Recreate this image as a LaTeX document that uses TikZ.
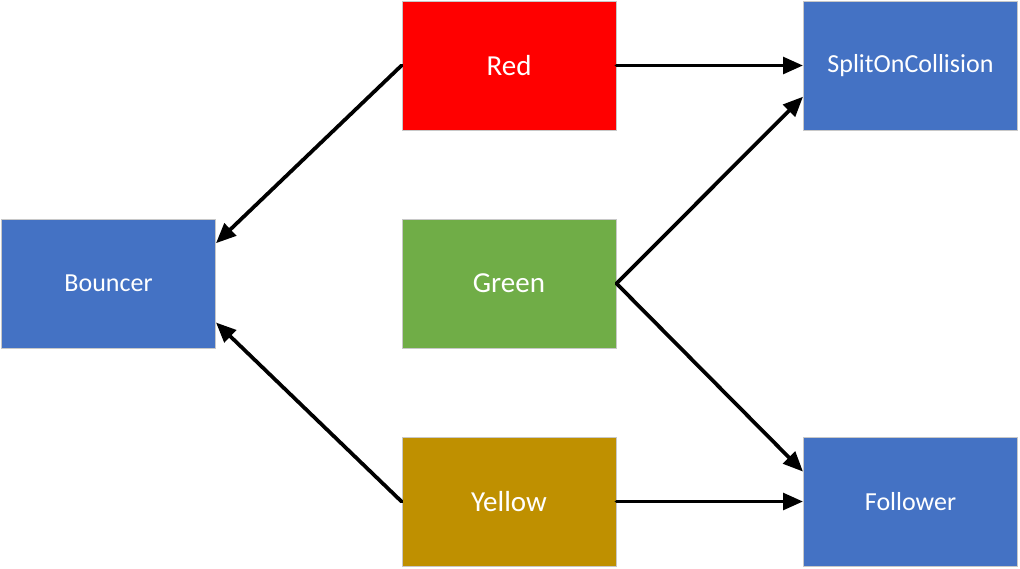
\documentclass[tikz,border=0pt]{standalone}
\usepackage{fontspec}
\setmainfont{Carlito}
\usetikzlibrary{arrows.meta,calc}
\definecolor{boxblue}{HTML}{4472C4}
\definecolor{boxred}{HTML}{FF0000}
\definecolor{boxgreen}{HTML}{70AD47}
\definecolor{boxgold}{HTML}{BF9000}
\definecolor{edgegray}{HTML}{C8C8C8}
\begin{document}
\begin{tikzpicture}[x=0.75pt,y=-0.75pt,
  box/.style={draw=edgegray,line width=0.75pt,minimum width=160.5pt,minimum height=96.75pt,
    inner sep=0pt,text=white,font=\fontsize{19.5}{22}\selectfont},
  colbox/.style={box,font=\fontsize{21.75}{25}\selectfont},
  link/.style={line width=2.8pt,line cap=round,-{Triangle[length=15pt,width=12.5pt]}}]
\useasboundingbox (0,0) rectangle (1020,568);
% boxes
\node[colbox,fill=boxred]   (red)      at (509,65.5)    {Red};
\node[colbox,fill=boxgreen] (green)    at (509,283.5)   {Green};
\node[colbox,fill=boxgold]  (yellow)   at (509,501.5)   {Yellow};
\node[box,fill=boxblue]     (bouncer)  at (108.5,283.5) {Bouncer};
\node[box,fill=boxblue]     (split)    at (910.5,65.5)  {SplitOnCollision};
\node[box,fill=boxblue]     (follower) at (910.5,501.5) {Follower};
% connections
\draw[link] (red.west) -- ($(bouncer.north east)!0.19!(bouncer.south east)$);
\draw[link] (yellow.west) -- ($(bouncer.north east)!0.80!(bouncer.south east)$);
\draw[link] (red.east) -- (split.west);
\draw[link] (green.east) -- ($(split.north west)!0.74!(split.south west)$);
\draw[link] (green.east) -- ($(follower.north west)!0.27!(follower.south west)$);
\draw[link] (yellow.east) -- (follower.west);
\end{tikzpicture}
\end{document}
